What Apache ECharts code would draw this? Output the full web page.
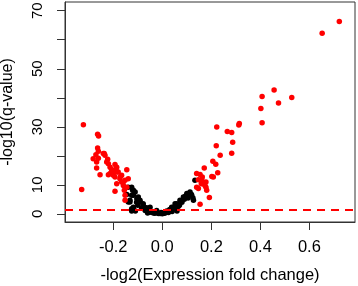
<!DOCTYPE html>
<html><head><meta charset="utf-8">
<script src="https://cdn.jsdelivr.net/npm/echarts@6/dist/echarts.min.js"></script>
<style>html,body{margin:0;padding:0;background:#fff}#c{width:358px;height:286px}</style>
</head><body><div id="c"></div>
<script>
const xTicks = [-0.2, 0, 0.2, 0.4, 0.6];
const yTicks = [0, 10, 20, 30, 40, 50, 60, 70];
const yLabels = [0, 10, 30, 50, 70];
const threshold = 1.3;
const xTitle = '-log2(Expression fold change)';
const yTitle = '-log10(q-value)';

const redUp = [[0.722,66.3],[0.652,62.2],[0.456,42.7],[0.407,40.4],[0.528,40.1],[0.474,38.2],[0.402,36.3],[0.407,31.4],[0.314,31.1],[0.312,30.6],[0.222,29.9],[0.265,28.4],[0.283,28.0],[0.287,24.7],[0.220,23.5],[0.283,20.9],[0.236,20.2],[0.206,18.1],[0.218,17.1],[0.226,14.2],[0.171,15.8],[0.202,12.9],[0.154,13.6],[0.163,12.7],[0.147,11.8],[0.140,13.9],[0.178,11.0],[0.159,10.4],[0.167,10.4],[0.174,9.8],[0.147,8.7],[0.140,9.2],[0.181,8.1],[0.178,9.2],[0.192,5.6],[0.154,3.3],[0.208,12.7],[0.161,11.8]];
const redDown = [[-0.322,30.7],[-0.264,27.4],[-0.260,26.8],[-0.264,22.7],[-0.261,21.6],[-0.271,20.4],[-0.237,20.8],[-0.282,19.0],[-0.261,19.2],[-0.268,17.9],[-0.223,18.8],[-0.220,17.3],[-0.268,15.8],[-0.254,13.5],[-0.193,17.0],[-0.186,16.1],[-0.207,15.3],[-0.145,15.2],[-0.220,13.5],[-0.180,14.4],[-0.193,12.7],[-0.173,12.1],[-0.166,11.0],[-0.152,11.6],[-0.139,12.1],[-0.186,10.4],[-0.159,9.8],[-0.145,9.2],[-0.329,8.4],[-0.193,7.8],[-0.152,6.4],[-0.152,4.7],[-0.200,13.3],[-0.213,13.9],[-0.213,16.1],[-0.189,15.5],[-0.170,13.0],[-0.160,10.8],[-0.155,8.1],[-0.227,17.9],[-0.234,20.2],[-0.186,14.4],[-0.166,13.3],[-0.241,20.8],[-0.203,14.3]];
const notSig = [[-0.139,9.2],[-0.125,9.2],[-0.121,8.1],[-0.118,8.1],[-0.111,7.5],[-0.145,6.7],[-0.125,6.4],[-0.118,6.4],[-0.104,5.2],[-0.098,5.8],[-0.098,5.2],[-0.091,4.7],[-0.132,4.7],[-0.132,4.1],[-0.139,4.1],[-0.091,4.1],[-0.078,3.5],[-0.078,2.9],[-0.118,2.3],[-0.125,1.8],[-0.125,1.0],[-0.064,2.1],[-0.064,1.8],[-0.057,0.6],[-0.050,0.6],[-0.050,2.3],[-0.037,0.6],[-0.037,0.3],[-0.023,1.2],[-0.016,0.1],[-0.009,0.1],[0.004,0.3],[0.010,0.2],[0.018,1.0],[0.025,0.5],[0.030,1.5],[0.038,2.3],[0.045,2.3],[0.052,3.5],[0.052,1.8],[0.059,3.5],[0.065,2.5],[0.072,4.7],[0.080,4.0],[0.086,5.8],[0.090,5.0],[0.095,6.2],[0.100,7.0],[0.105,5.5],[0.108,6.5],[0.113,7.5],[0.118,6.8],[0.120,6.4],[0.125,5.5],[0.127,4.7],[0.133,11.6],[0.070,3.0],[0.060,1.0],[-0.070,1.2],[-0.085,2.0],[-0.100,3.0],[-0.105,4.0],[-0.030,0.2],[0.000,0.0],[-0.005,0.5],[0.040,0.8],[-0.110,1.0],[-0.060,0.3]];

const font = 'Liberation Sans, Arial, sans-serif';
const chart = echarts.init(document.getElementById('c'), null, {renderer:'canvas'});
chart.setOption({
  animation: false,
  grid: {left: 65, right: 3, top: 2, bottom: 64, containLabel: false, outerBoundsMode: 'none', show: true, borderColor: '#333', borderWidth: 1, backgroundColor: 'transparent'},
  xAxis: {
    type: 'value', min: -0.397, max: 0.786,
    name: xTitle, nameLocation: 'middle', nameGap: 45,
    nameTextStyle: {fontFamily: font, fontSize: 16.5, color: '#000'},
    axisLine: {show: true, onZero: false, lineStyle: {color: '#333', width: 1}},
    axisTick: {show: true, length: 8, customValues: xTicks, lineStyle: {color: '#333'}},
    axisLabel: {customValues: xTicks, margin: 17, fontFamily: font, fontSize: 16.5, color: '#000', formatter: v => v.toFixed(1)},
    splitLine: {show: false}
  },
  yAxis: {
    type: 'value', min: -2.8, max: 73,
    name: yTitle, nameLocation: 'middle', nameGap: 49, nameRotate: 90,
    nameTextStyle: {fontFamily: font, fontSize: 16, color: '#000'},
    axisLine: {show: true, onZero: false, lineStyle: {color: '#333', width: 1}},
    axisTick: {show: true, length: 8, customValues: yTicks, lineStyle: {color: '#333'}},
    axisLabel: {customValues: yLabels, rotate: 90, margin: 20, fontFamily: font, fontSize: 15, color: '#000'},
    splitLine: {show: false}
  },
  series: [
    {type: 'scatter', data: notSig, symbolSize: 5.5, itemStyle: {color: '#000', opacity: 1}, silent: true},
    {type: 'scatter', data: redDown, symbolSize: 5.5, itemStyle: {color: '#ff0000', opacity: 1}, silent: true},
    {type: 'scatter', data: redUp, symbolSize: 5.5, itemStyle: {color: '#ff0000', opacity: 1}, silent: true,
     markLine: {silent: true, symbol: 'none', label: {show: false},
       lineStyle: {color: '#ff0000', type: [8, 6], width: 2},
       data: [{yAxis: threshold}]}}
  ]
});
</script></body></html>
